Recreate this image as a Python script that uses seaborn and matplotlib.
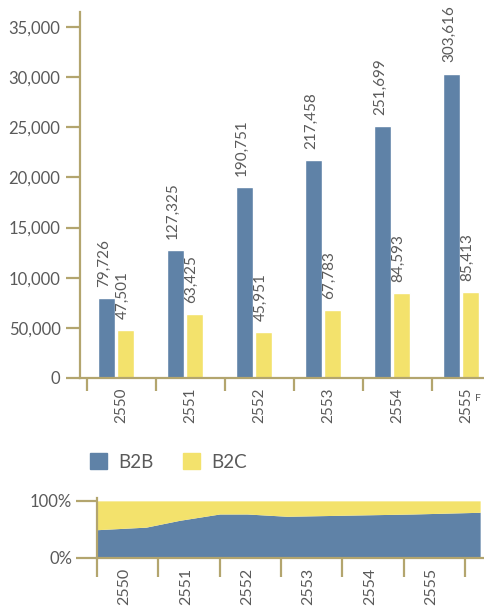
import matplotlib
matplotlib.use("Agg")
import matplotlib.pyplot as plt
from matplotlib.patches import Rectangle
import seaborn as sns
import pandas as pd
import numpy as np

# ---- data ----
years = ["2550", "2551", "2552", "2553", "2554", "2555"]
b2b = [79726, 127325, 190751, 217458, 251699, 303616]
b2c = [47501, 63425, 45951, 67783, 84593, 85413]
series = ["B2B", "B2C"]
ytick_values = [0, 50000, 100000, 150000, 200000, 250000, 300000, 350000]
ytick_labels = ["0", "50,000", "10,000", "15,000", "20,000", "25,000", "30,000", "35,000"]

# B2B share (%) of the total, sampled along the lower strip
share_x = [0.0, 0.8, 1.35, 2.0, 2.45, 3.1, 4.1, 5.15, 6.25]
share_b2b = [49.5, 54, 66, 77, 77, 73, 75, 77, 80]
share_ticks = [0, 100]
share_tick_labels = ["0%", "100%"]

# ---- style ----
BLUE = "#5f82a7"
YELLOW = "#f3e26c"
AXIS = "#b3a56e"
TEXT = "#5a5a5a"

sns.set_theme(style="white")
plt.rcParams["font.family"] = ["Lato", "DejaVu Sans"]
plt.rcParams["text.color"] = TEXT

W, H = 485, 611
fig = plt.figure(figsize=(W / 100, H / 100), dpi=100)
fig.patch.set_facecolor("white")


def px_axes(x0, y0, x1, y1):
    """Axes from pixel box (left, top, right, bottom)."""
    return fig.add_axes([x0 / W, 1 - y1 / H, (x1 - x0) / W, (y1 - y0) / H])


def style_axes(ax):
    ax.set_facecolor("none")
    for s in ["top", "right"]:
        ax.spines[s].set_visible(False)
    for s in ["left", "bottom"]:
        ax.spines[s].set_color(AXIS)
        ax.spines[s].set_linewidth(1.6)


# ---- top: grouped bars ----
df = pd.DataFrame({
    "year": years * 2,
    "value": b2b + b2c,
    "type": [series[0]] * len(years) + [series[1]] * len(years),
})

ax = px_axes(80, 12, 525, 378)
sns.barplot(data=df, x="year", y="value", hue="type", order=years,
            hue_order=series, palette=[BLUE, YELLOW], width=0.54, gap=0.1,
            dodge=True, legend=False, ax=ax, saturation=1)
style_axes(ax)
ax.set_xlim(-0.52, 5.93)
ax.set_ylim(0, 365000)
ax.set_xlabel("")
ax.set_ylabel("")
ax.set_yticks(ytick_values)
ax.set_yticklabels(ytick_labels, fontsize=12, color=TEXT)
ax.tick_params(axis="y", length=10, width=1.6, color=AXIS, pad=4, left=True)

# year labels sit beside the group, tick marks fall between groups
xs = np.arange(len(years))
ax.set_xticks(xs + 0.08)
ax.set_xticklabels(years, rotation=90, fontsize=11, color=TEXT)
ax.tick_params(axis="x", which="major", length=0, pad=7)
ax.set_xticks(xs - 0.42, minor=True)
ax.tick_params(axis="x", which="minor", length=9, width=1.6, color=AXIS,
               bottom=True, direction="out")
ax.text(5.2, -0.055, "F", transform=ax.get_xaxis_transform(), fontsize=7.5,
        color=TEXT, ha="left", va="center")

for container in ax.containers:
    for bar in container:
        h = bar.get_height()
        ax.annotate(f"{h:,.0f}", (bar.get_x() + bar.get_width() / 2 - 0.04, h),
                    xytext=(0, 8), textcoords="offset points", rotation=90,
                    ha="center", va="bottom", fontsize=11, color=TEXT,
                    annotation_clip=False)

# ---- legend ----
for i, (name, col) in enumerate(zip(series, [BLUE, YELLOW])):
    x0 = 90 + i * 93
    fig.patches.append(Rectangle((x0 / W, 1 - 469 / H), 17 / W, 16 / H,
                                 transform=fig.transFigure, color=col))
    fig.text((x0 + 28) / W, 1 - 462 / H, name, fontsize=13.5, color=TEXT,
             va="center", ha="left")

# ---- bottom: share strip ----
ax2 = px_axes(97, 498, 520, 558)
style_axes(ax2)
ax2.fill_between(share_x, 0, share_b2b, color=BLUE, linewidth=0)
ax2.fill_between(share_x, share_b2b, 100, color=YELLOW, linewidth=0)
ax2.set_xlim(0, 6.9)
ax2.set_ylim(0, 105)
ax2.set_yticks(share_ticks)
ax2.set_yticklabels(share_tick_labels, fontsize=12, color=TEXT)
ax2.tick_params(axis="y", length=15, width=1.6, color=AXIS, pad=3, left=True)
ax2.set_xticks(np.arange(len(years) + 1), minor=True)
ax2.tick_params(axis="x", which="minor", length=14, width=1.6, color=AXIS,
                bottom=True)
ax2.set_xticks(xs + 0.45)
ax2.set_xticklabels(years, rotation=90, fontsize=11.5, color=TEXT)
ax2.tick_params(axis="x", which="major", length=0, pad=7)

fig.savefig("out.png", dpi=100)
